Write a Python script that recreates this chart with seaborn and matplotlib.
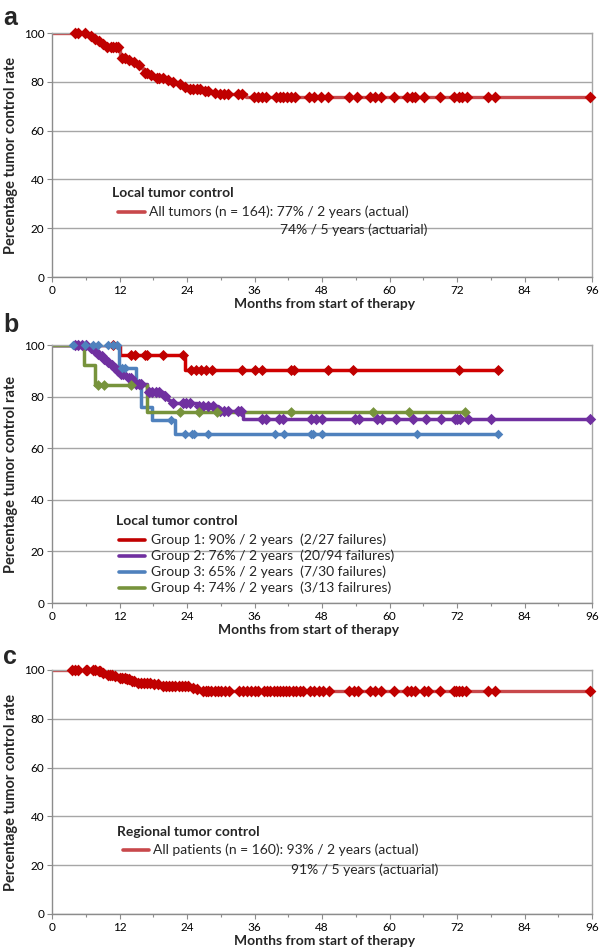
import matplotlib
matplotlib.use("Agg")
import matplotlib.pyplot as plt
from matplotlib.lines import Line2D
from matplotlib.ticker import MultipleLocator
import numpy as np
import pandas as pd
import seaborn as sns

# ---- panel a: local tumor control, all tumors (n = 164) ----
a_event_t = [6.6, 7.3, 8.0, 8.6, 9.4, 12.0, 13.4, 14.2, 15.0, 15.8, 16.1, 17.2,
             18.0, 20.2, 21.0, 22.4, 23.2, 24.0, 26.6, 28.4, 29.4, 34.5]
a_event_s = [98.8, 97.5, 96.9, 95.6, 94.4, 89.9, 89.0, 88.0, 86.8, 85.6, 83.8, 82.6,
             81.7, 80.9, 79.8, 79.0, 78.0, 77.0, 76.3, 75.6, 75.0, 73.8]
a_cens_t = [4.1, 4.6, 5.9, 6.9, 7.6, 8.3, 9.0, 9.8, 10.4, 10.9, 11.4, 11.8, 12.4,
            12.9, 13.7, 14.6, 15.4, 16.5, 16.9, 17.6, 18.6, 19.1, 19.7, 20.6, 21.5,
            22.8, 23.6, 24.5, 25.0, 25.7, 26.3, 27.2, 27.8, 28.9, 29.9, 30.6, 31.3,
            33.1, 33.8, 35.9, 36.6, 37.4, 38.0, 39.8, 40.5, 41.1, 41.8, 42.4, 43.2,
            45.7, 46.6, 47.8, 49.0, 52.8, 54.2, 56.6, 57.5, 58.4, 60.8, 63.1, 64.0,
            64.6, 66.1, 68.9, 71.4, 72.3, 72.9, 73.8, 77.6, 78.8, 95.6]

# ---- panel b: local tumor control by group ----
g1_event_t = [12.0, 23.7]
g1_event_s = [96.0, 90.3]
g1_cens_t = [10.8, 14.1, 14.7, 16.5, 16.9, 19.7, 23.2, 24.7, 25.6, 26.5, 27.4, 28.5,
             33.7, 36.0, 37.4, 42.4, 43.0, 49.1, 53.5, 72.3, 79.2]

g2_event_t = [6.6, 7.3, 7.9, 8.5, 9.0, 9.6, 10.2, 11.0, 11.5, 12.0, 13.2, 14.2,
              14.6, 16.8, 19.8, 20.6, 21.0, 25.8, 29.5, 34.0]
g2_event_s = [98.9, 97.8, 96.7, 95.6, 94.5, 93.4, 92.3, 91.1, 89.9, 88.7, 87.4, 86.1,
              84.8, 81.6, 80.2, 78.8, 77.4, 76.3, 74.3, 71.3]
g2_cens_t = [4.1, 4.6, 5.4, 6.1, 7.0, 7.6, 8.2, 8.8, 9.3, 9.9, 10.6, 11.2, 11.8,
             12.3, 12.7, 13.6, 14.0, 15.0, 15.5, 15.9, 17.3, 17.8, 18.4, 19.1, 20.1,
             21.5, 23.3, 23.9, 24.6, 26.2, 26.9, 27.7, 28.6, 29.9, 30.5, 31.3, 33.0,
             33.6, 37.4, 38.0, 40.4, 41.0, 46.0, 47.0, 48.0, 53.9, 54.5, 57.7, 58.6,
             61.1, 64.2, 66.4, 69.1, 71.6, 72.0, 72.5, 74.0, 78.0, 95.6]

g3_event_t = [11.9, 14.9, 15.9, 17.8, 21.8]
g3_event_s = [91.1, 86.0, 76.0, 71.0, 65.4]
g3_cens_t = [3.7, 5.8, 7.3, 8.2, 10.0, 10.9, 11.6, 12.4, 13.0, 21.2, 23.7, 24.9,
             25.2, 27.7, 39.6, 41.3, 46.1, 46.4, 48.0, 64.8, 79.2]

g4_event_t = [5.7, 7.7, 16.9]
g4_event_s = [92.3, 84.6, 74.0]
g4_cens_t = [8.1, 9.3, 14.1, 22.7, 26.2, 29.3, 42.4, 57.0, 63.5, 73.4]

group_labels = ["Group 1: 90% / 2 years  (2/27 failures)",
                "Group 2: 76% / 2 years  (20/94 failures)",
                "Group 3: 65% / 2 years  (7/30 failures)",
                "Group 4: 74% / 2 years  (3/13 failrures)"]

# ---- panel c: regional tumor control, all patients (n = 160) ----
c_event_t = [7.9, 8.8, 9.6, 10.8, 11.8, 13.0, 13.9, 14.8, 17.8, 19.4, 24.6, 25.4, 26.2]
c_event_s = [99.4, 98.7, 98.1, 97.4, 96.8, 96.2, 95.5, 94.8, 94.2, 93.5, 92.8, 92.2, 91.2]
c_cens_t = [3.6, 4.1, 4.6, 6.0, 6.3, 7.3, 7.6, 8.3, 8.6, 9.1, 9.9, 10.3, 10.6, 11.2,
            12.1, 12.5, 12.9, 13.3, 13.6, 14.2, 14.6, 15.2, 15.8, 16.3, 16.9, 17.5,
            18.2, 18.8, 19.8, 20.3, 20.8, 21.3, 21.8, 22.5, 23.1, 23.6, 24.2, 25.0,
            25.8, 26.8, 27.3, 27.8, 28.3, 28.9, 29.5, 30.1, 30.8, 31.4, 33.2, 34.0,
            34.6, 35.3, 36.1, 36.7, 37.6, 38.2, 38.8, 39.4, 40.0, 40.6, 41.1, 41.6,
            42.2, 42.8, 43.4, 44.0, 44.7, 45.8, 46.6, 47.4, 48.2, 49.2, 52.8, 53.6,
            54.4, 56.6, 57.5, 58.4, 60.8, 63.1, 63.8, 64.5, 66.1, 66.8, 68.9, 71.4,
            71.9, 72.4, 72.9, 73.6, 77.6, 78.8, 95.6]

W, H = 600, 949
AX_L, AX_W = 52, 540

sns.set_theme(style="white")
plt.rcParams["font.family"] = ["Lato", "DejaVu Sans"]


def km_frames(event_t, event_s, cens_t):
    # step curve plus censor marks sitting on the curve
    end = max(cens_t[-1], event_t[-1])
    steps = pd.DataFrame({"t": [0.0] + list(event_t) + [end],
                          "s": [100.0] + list(event_s) + [event_s[-1]]})
    idx = np.searchsorted(event_t, cens_t, side="right")
    level = np.concatenate([[100.0], event_s])[idx]
    marks = pd.DataFrame({"t": cens_t, "s": level})
    return steps, marks


def draw_curve(ax, event_t, event_s, cens_t, line_color, mark_color, lw=2.4, ms=36):
    steps, marks = km_frames(event_t, event_s, cens_t)
    sns.lineplot(data=steps, x="t", y="s", ax=ax, color=line_color, lw=lw,
                 drawstyle="steps-post", estimator=None, sort=False, zorder=2)
    sns.scatterplot(data=marks, x="t", y="s", ax=ax, color=mark_color, marker="D",
                    s=ms, linewidth=0, zorder=3, clip_on=False)


def style_axes(ax, xlabel_center=325, xlabel_y=-0.088):
    ax.set_xlim(0, 96)
    ax.set_ylim(0, 100)
    ax.xaxis.set_major_locator(MultipleLocator(12))
    ax.xaxis.set_minor_locator(MultipleLocator(6))
    ax.yaxis.set_major_locator(MultipleLocator(20))
    ax.grid(axis="y", color="#a6a6a6", lw=1.0)
    ax.set_axisbelow(True)
    for side in ["top", "right"]:
        ax.spines[side].set_color("#a6a6a6")
        ax.spines[side].set_linewidth(1.0)
    for side in ["left", "bottom"]:
        ax.spines[side].set_color("#8c8c8c")
        ax.spines[side].set_linewidth(1.0)
    ax.tick_params(axis="both", which="both", direction="out", color="#8c8c8c",
                   labelsize=8.5, labelcolor="black")
    ax.tick_params(axis="x", which="major", length=3.5, width=0.8, pad=2)
    ax.tick_params(axis="x", which="minor", length=2.5, width=0.8)
    ax.tick_params(axis="y", which="major", length=3.5, width=0.8, pad=2, left=True)
    ax.tick_params(axis="x", bottom=True, which="both")
    ax.set_xlabel("Months from start of therapy", fontsize=10, fontweight="bold")
    ax.xaxis.set_label_coords((xlabel_center - AX_L) / AX_W, xlabel_y)
    ax.set_ylabel("Percentage tumor control rate", fontsize=10.5, fontweight="bold", labelpad=4)


def px_text(fig, x, y, s, **kw):
    fig.text(x / W, 1 - y / H, s, va="center", ha="left", **kw)


def px_key(fig, x0, x1, y, color):
    fig.add_artist(Line2D([x0 / W, x1 / W], [1 - y / H, 1 - y / H], color=color,
                          lw=2.6, transform=fig.transFigure))


fig = plt.figure(figsize=(W / 100, H / 100), dpi=100)
left, width = AX_L / W, AX_W / W
ax_a = fig.add_axes([left, 1 - 277 / H, width, 244 / H])
ax_b = fig.add_axes([left, 1 - 603 / H, width, 258 / H])
ax_c = fig.add_axes([left, 1 - 914 / H, width, 244 / H])

# panel a
draw_curve(ax_a, a_event_t, a_event_s, a_cens_t, "#c8484b", "#c00000")
style_axes(ax_a)

# panel b
draw_curve(ax_b, g1_event_t, g1_event_s, g1_cens_t, "#d00000", "#c00000", lw=2.5, ms=32)
draw_curve(ax_b, g2_event_t, g2_event_s, g2_cens_t, "#7030a0", "#7030a0", lw=2.5, ms=34)
draw_curve(ax_b, g3_event_t, g3_event_s, g3_cens_t, "#4f81bd", "#4f81bd", lw=2.5, ms=24)
draw_curve(ax_b, g4_event_t, g4_event_s, g4_cens_t, "#77933c", "#77933c", lw=2.5, ms=30)
style_axes(ax_b, xlabel_center=309, xlabel_y=-0.08)

# panel c
draw_curve(ax_c, c_event_t, c_event_s, c_cens_t, "#c8484b", "#c00000")
style_axes(ax_c)

# panel letters
for letter, y in [("a", 18), ("b", 325), ("c", 657)]:
    fig.text(3 / W, 1 - y / H, letter, fontsize=18, fontweight="bold",
             family=["Liberation Sans", "DejaVu Sans"], va="center", ha="left")

# legends
txt = dict(fontsize=10)
px_text(fig, 112, 193, "Local tumor control", fontsize=10, fontweight="bold")
px_key(fig, 118, 145, 212, "#c8484b")
px_text(fig, 149, 212, "All tumors (n = 164): 77% / 2 years (actual)", **txt)
px_text(fig, 280, 230, "74% / 5 years (actuarial)", **txt)

px_text(fig, 116, 521, "Local tumor control", fontsize=10, fontweight="bold")
for label, color, y in zip(group_labels, ["#c00000", "#7030a0", "#4f81bd", "#77933c"],
                           [540, 556, 572, 588]):
    px_key(fig, 119, 145, y, color)
    px_text(fig, 151, y, label, **txt)

px_text(fig, 117, 832, "Regional tumor control", fontsize=10, fontweight="bold")
px_key(fig, 123, 149, 850, "#c8484b")
px_text(fig, 153, 850, "All patients (n = 160): 93% / 2 years (actual)", **txt)
px_text(fig, 291, 870, "91% / 5 years (actuarial)", **txt)

fig.savefig("out.png", dpi=100)
